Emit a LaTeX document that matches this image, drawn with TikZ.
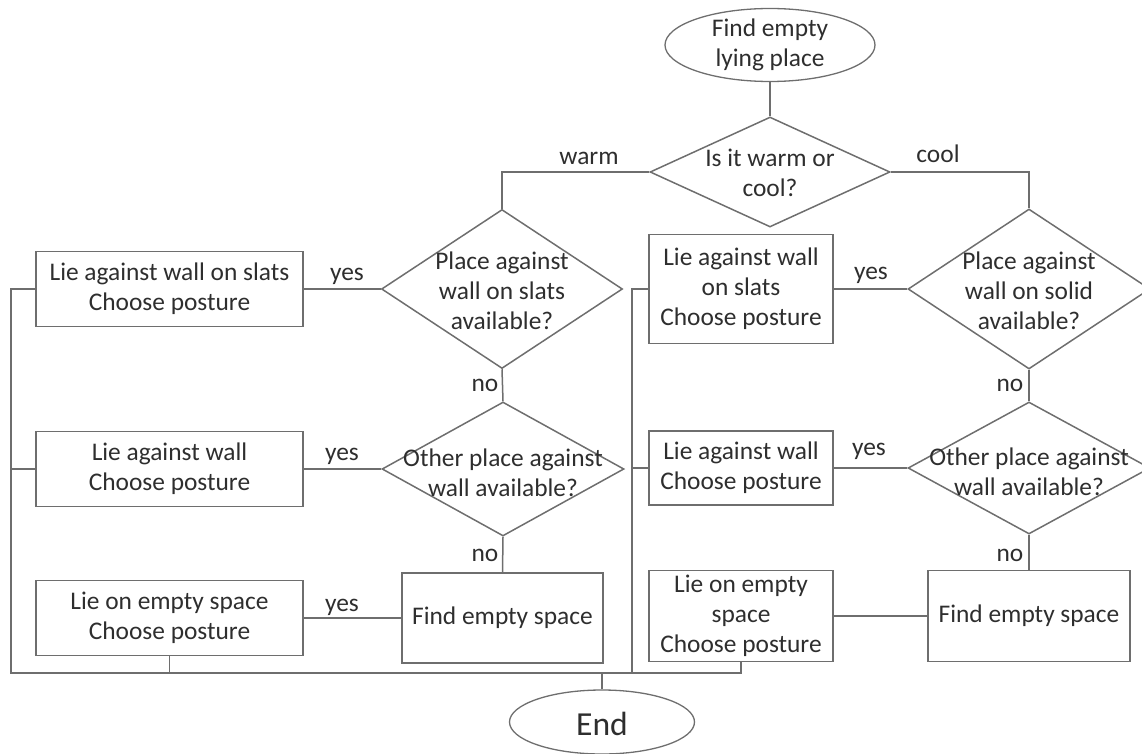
\documentclass[tikz,border=0pt]{standalone}
\usepackage{fontspec}
\setmainfont{Carlito}
\usetikzlibrary{shapes.geometric}
\definecolor{linec}{HTML}{6E6E6E}
\definecolor{textc}{HTML}{2E2E2E}
\begin{document}
\begin{tikzpicture}[x=1pt,y=-1pt,
		every node/.style={text=textc, font=\fontsize{25.4}{30}\selectfont},
		box/.style={draw=linec, line width=1.5pt, rectangle, inner sep=0pt, align=center},
		decision/.style={draw=linec, line width=1.5pt, diamond, inner sep=0pt},
		terminal/.style={draw=linec, line width=1.3pt, ellipse, inner sep=0pt},
		txt/.style={align=center, inner sep=0pt},
		conn/.style={draw=linec, line width=1.5pt}]
			\useasboundingbox (0,0) rectangle (1142,754);
			% start and first question
			\node[terminal, minimum width=210pt, minimum height=73pt] (start) at (770,45) {};
			\node[txt] (startt) at (770,45) {Find empty\\lying place};
			\node[decision, minimum width=240pt, minimum height=110pt] (warmcool) at (770,172) {};
			\node[txt] (warmcoolt) at (770,173) {Is it warm or\\cool?};
			% warm side
			\node[decision, minimum width=241pt, minimum height=159pt] (dslats) at (502,289) {};
			\node[txt] (dslatst) at (502,291) {Place against\\wall on slats\\available?};
			\node[decision, minimum width=242pt, minimum height=134pt] (dwallL) at (503,469) {};
			\node[txt] (dwallLt) at (503,473) {Other place against\\wall available?};
			\node[box, minimum width=201pt, minimum height=90pt] (findL) at (502.5,618) {Find empty space};
			\node[box, minimum width=267pt, minimum height=75pt] (lieslats) at (169.5,289) {Lie against wall on slats\\Choose posture};
			\node[box, minimum width=267pt, minimum height=75pt] (liewallL) at (169.5,469) {Lie against wall\\Choose posture};
			\node[box, minimum width=267pt, minimum height=75pt] (lieemptyL) at (169.5,618) {Lie on empty space\\Choose posture};
			% cool side
			\node[decision, minimum width=242pt, minimum height=160pt] (dsolid) at (1029,289) {};
			\node[txt] (dsolidt) at (1029,291) {Place against\\wall on solid\\available?};
			\node[decision, minimum width=242pt, minimum height=132pt] (dwallR) at (1029,468) {};
			\node[txt] (dwallRt) at (1029,472) {Other place against\\wall available?};
			\node[box, minimum width=202pt, minimum height=91pt] (findR) at (1029,616) {Find empty space};
			\node[box, minimum width=184pt, minimum height=109pt] (liesolid) at (741,289) {Lie against wall\\on slats\\Choose posture};
			\node[box, minimum width=184pt, minimum height=74pt] (liewallR) at (741,468) {Lie against wall\\Choose posture};
			\node[box, minimum width=184pt, minimum height=91pt] (lieemptyR) at (741,616) {Lie on empty\\space\\Choose posture};
			% end
			\node[terminal, minimum width=185pt, minimum height=64pt] (finish) at (602,722) {};
			\node[txt, font=\fontsize{33.6}{40}\selectfont] (finisht) at (602,724) {End};
			\coordinate (busL) at (11,673);
			\coordinate (busR) at (632,673);
			% connectors
			\draw[conn] (start) -- (warmcool);
			\draw[conn] (warmcool.west) -| (dslats.north);
			\draw[conn] (warmcool.east) -| (dsolid.north);
			\draw[conn] (lieslats.east) -- (dslats.west);
			\draw[conn] (dslats.south) -- (dwallL.north);
			\draw[conn] (liewallL.east) -- (dwallL.west);
			\draw[conn] (dwallL.south) -- (findL.north);
			\draw[conn] (lieemptyL.east) -- (findL.west);
			\draw[conn] (liesolid.east) -- (dsolid.west);
			\draw[conn] (dsolid.south) -- (dwallR.north);
			\draw[conn] (liewallR.east) -- (dwallR.west);
			\draw[conn] (dwallR.south) -- (findR.north);
			\draw[conn] (lieemptyR.east) -- (findR.west);
			% collecting lines
			\draw[conn] (lieslats.west) -| (busL) -| (lieemptyR.south);
			\draw[conn] (liewallL.west) -- (liewallL.west -| busL);
			\draw[conn] (lieemptyL.south) -- (lieemptyL.south |- busL);
			\draw[conn] (liesolid.west) -| (busR);
			\draw[conn] (liewallR.west) -- (liewallR.west -| busR);
			\draw[conn] (finish.north) -- (finish.north |- busL);
			% labels
			\node (lwarm) at (589,158) {warm};
			\node (lcool) at (938,154) {cool};
			\node (lyes1) at (347,276) {yes};
			\node (lyes2) at (342,456) {yes};
			\node (lyes3) at (342,607) {yes};
			\node (lyes4) at (871,275) {yes};
			\node (lyes5) at (869,451) {yes};
			\node (lno1) at (485,385) {no};
			\node (lno2) at (485,555) {no};
			\node (lno3) at (1010,385) {no};
			\node (lno4) at (1010,555) {no};
		\end{tikzpicture}
\end{document}
